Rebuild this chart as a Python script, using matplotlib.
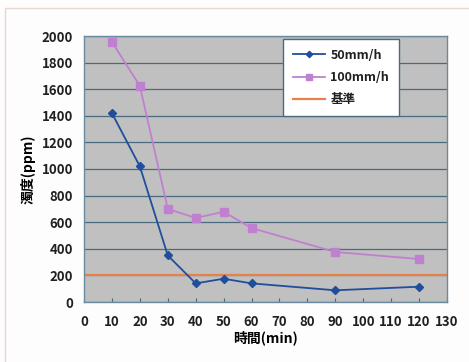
import matplotlib
matplotlib.use('Agg')
import matplotlib.pyplot as plt
from matplotlib.patches import Rectangle

plt.rcParams['font.family'] = ['Noto Sans CJK JP', 'DejaVu Sans']

# data
time_min = [10, 20, 30, 40, 50, 60, 90, 120]
rate_50 = [1420, 1020, 350, 140, 175, 140, 88, 115]
rate_100 = [1955, 1625, 700, 632, 678, 556, 376, 323]
baseline = 200
x_ticks = list(range(0, 140, 10))
y_ticks = list(range(0, 2200, 200))

fig = plt.figure(figsize=(4.69, 3.62), dpi=100)
fig.patch.set_facecolor('#fdfdfd')
# light outer frame like the spreadsheet chart area
fig.patches.append(Rectangle((5 / 469, -0.02), 1.1, 1 - 8 / 362 + 0.02,
                             transform=fig.transFigure, fill=False,
                             edgecolor='#e8d8d0', lw=1.0))

ax = fig.add_axes([84 / 469, 60 / 362, 363 / 469, 266 / 362])
ax.set_facecolor('#c0c0c0')

ax.set_xlim(0, 130)
ax.set_ylim(0, 2000)
ax.set_xticks(x_ticks)
ax.set_yticks(y_ticks)
ax.grid(axis='y', color='#4a6a80', lw=0.9)
ax.set_axisbelow(True)
ax.tick_params(axis='y', length=0, labelsize=9.5, pad=8)
ax.tick_params(axis='x', direction='in', length=3, labelsize=9.5, pad=9,
               color='#4a6a80')
for lbl in ax.get_xticklabels() + ax.get_yticklabels():
    lbl.set_fontweight('bold')
    lbl.set_color('#202020')
for s in ax.spines.values():
    s.set_color('#6a8aa0')
    s.set_linewidth(1.0)

ax.axhline(baseline, color='#e8804a', lw=1.6, label='基準', zorder=2)
ax.plot(time_min, rate_50, color='#1f4e9c', marker='D', ms=4, lw=1.3,
        label='50mm/h', zorder=3)
ax.plot(time_min, rate_100, color='#c080d0', marker='s', ms=6, lw=1.3,
        label='100mm/h', zorder=3)

h, l = ax.get_legend_handles_labels()
order = [1, 2, 0]
leg = ax.legend([h[i] for i in order], [l[i] for i in order],
                loc='upper left', bbox_to_anchor=(0.548, 0.99),
                borderaxespad=0, fancybox=False, framealpha=1,
                edgecolor='#4a6a80', fontsize=9, handlelength=2.6,
                handletextpad=0.4, borderpad=0.8, labelspacing=0.75,
                markerscale=0.8)
leg.get_frame().set_linewidth(1.0)
for t in leg.get_texts():
    t.set_fontweight('bold')
    t.set_color('#202020')

ax.set_ylabel('濁度(ppm)', fontsize=10, fontweight='bold', labelpad=4)
ax.set_xlabel('時間(min)', fontsize=10, fontweight='bold', labelpad=1)

fig.savefig('out.png', dpi=100, facecolor=fig.get_facecolor())
